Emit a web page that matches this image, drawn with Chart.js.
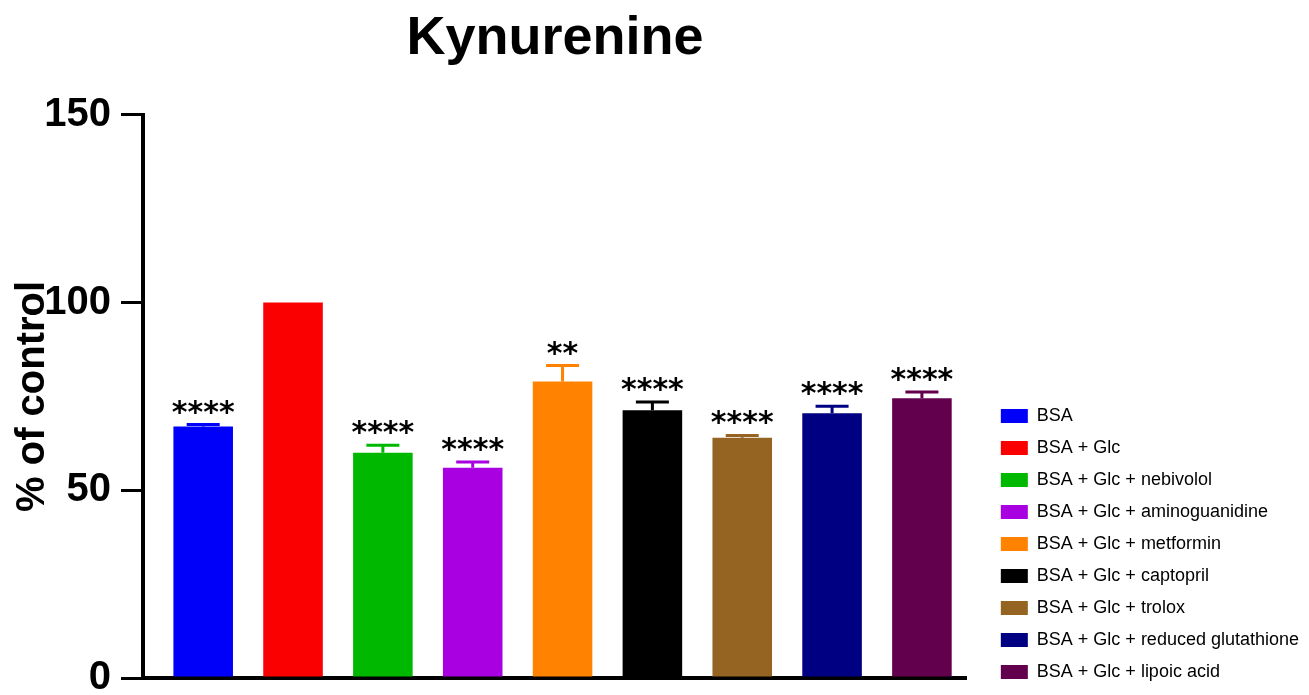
<!DOCTYPE html>
<html>
<head>
<meta charset="utf-8">
<title>Kynurenine</title>
<script src="https://cdn.jsdelivr.net/npm/chart.js@4/dist/chart.umd.min.js"></script>
<style>
  html, body { margin: 0; padding: 0; background: #ffffff; }
  #wrap { width: 1309px; height: 695px; position: relative; }
</style>
</head>
<body>
<div id="wrap"><canvas id="chart"></canvas></div>
<script>
// Groups (x categories and legend entries)
const categories = [
  'BSA',
  'BSA + Glc',
  'BSA + Glc + nebivolol',
  'BSA + Glc + aminoguanidine',
  'BSA + Glc + metformin',
  'BSA + Glc + captopril',
  'BSA + Glc + trolox',
  'BSA + Glc + reduced glutathione',
  'BSA + Glc + lipoic acid'
];

// Kynurenine, % of control (mean and SEM)
const meanValues = [67, 100, 60, 56, 79, 71.3, 64, 70.5, 74.5];
const semValues = [0.5, 0, 2, 1.5, 4.2, 2.2, 0.6, 1.9, 1.7];

// Significance vs BSA + Glc
const significance = ['****', '', '****', '****', '**', '****', '****', '****', '****'];

const barColors = [
  'rgb(0, 0, 250)',
  'rgb(250, 0, 0)',
  'rgb(0, 184, 0)',
  'rgb(168, 0, 224)',
  'rgb(255, 130, 0)',
  'rgb(0, 0, 0)',
  'rgb(150, 100, 34)',
  'rgb(0, 0, 130)',
  'rgb(98, 0, 78)'
];

const yTicks = [0, 50, 100, 150];

const FONT = "'Liberation Sans', Arial, Helvetica, sans-serif";
const STAR_FONT = "'DejaVu Sans', 'Liberation Sans', sans-serif";
Chart.defaults.font.family = FONT;
Chart.defaults.color = '#000';

const datasets = categories.map((name, i) => ({
  label: name,
  data: [{ x: i, y: meanValues[i] }],
  backgroundColor: barColors[i],
  borderWidth: 0,
  grouped: false,
  categoryPercentage: 1,
  barPercentage: 0.663
}));

// Error bars (upper SEM) and significance stars above each bar
const errorAndStars = {
  id: 'errorAndStars',
  afterDatasetsDraw(chart) {
    const ctx = chart.ctx;
    const yScale = chart.scales.y;
    ctx.save();
    chart.data.datasets.forEach((ds, i) => {
      const meta = chart.getDatasetMeta(i);
      if (meta.hidden) return;
      const bar = meta.data[0];
      const yMean = yScale.getPixelForValue(meanValues[i]);
      const yTop = yScale.getPixelForValue(meanValues[i] + semValues[i]);
      if (semValues[i] > 0) {
        ctx.strokeStyle = barColors[i];
        ctx.lineWidth = 3;
        ctx.beginPath();
        ctx.moveTo(bar.x, yMean);
        ctx.lineTo(bar.x, yTop);
        ctx.moveTo(bar.x - 16.5, yTop);
        ctx.lineTo(bar.x + 16.5, yTop);
        ctx.stroke();
      }
      if (significance[i]) {
        ctx.fillStyle = '#000';
        ctx.font = 'bold 30px ' + STAR_FONT;
        ctx.textAlign = 'center';
        ctx.textBaseline = 'alphabetic';
        ctx.fillText(significance[i], bar.x, yTop - 3);
      }
    });
    ctx.restore();
  }
};

new Chart(document.getElementById('chart'), {
  type: 'bar',
  data: { datasets },
  plugins: [errorAndStars],
  options: {
    responsive: true,
    maintainAspectRatio: false,
    animation: false,
    layout: { padding: 0 },
    plugins: {
      title: {
        display: true,
        text: 'Kynurenine',
        fullSize: false,
        color: '#000',
        font: { size: 54, weight: 'bold', family: FONT, lineHeight: 1.2 },
        padding: { top: 7, bottom: 43 }
      },
      legend: {
        position: 'right',
        align: 'end',
        maxWidth: 340,
        labels: {
          boxWidth: 27,
          boxHeight: 14,
          padding: 14,
          color: '#000',
          font: { size: 18, family: FONT }
        }
      },
      tooltip: { enabled: false }
    },
    scales: {
      x: {
        type: 'linear',
        min: -0.67,
        max: 8.5,
        offset: false,
        z: 1,
        afterBuildTicks(scale) { scale.ticks = categories.map((_, i) => ({ value: i })); },
        ticks: { display: false },
        grid: { display: false, drawTicks: false },
        border: { display: true, color: '#000', width: 4 },
        afterFit(scale) { scale.height = 17; }
      },
      y: {
        min: 0,
        max: 150,
        z: 1,
        afterBuildTicks(scale) { scale.ticks = yTicks.map(v => ({ value: v })); },
        ticks: {
          padding: 10,
          color: '#000',
          font: { size: 40, weight: 'bold', family: FONT }
        },
        grid: {
          display: true,
          drawOnChartArea: false,
          drawTicks: true,
          tickLength: 22,
          lineWidth: 3,
          color: '#000'
        },
        border: { display: true, color: '#000', width: 4 },
        title: {
          display: true,
          text: '% of control',
          color: '#000',
          font: { size: 40, weight: 'bold', family: FONT, lineHeight: 1.2 },
          padding: { top: 9, bottom: 0 }
        },
        afterFit(scale) {
          scale.width = 143;
          scale.paddingTop = 0;
          scale.paddingBottom = 0;
        }
      },
      gap: {
        type: 'linear',
        position: 'right',
        display: true,
        ticks: { display: false },
        grid: { display: false, drawTicks: false },
        border: { display: false },
        afterFit(scale) { scale.width = 20; }
      }
    }
  }
});
</script>
</body>
</html>
